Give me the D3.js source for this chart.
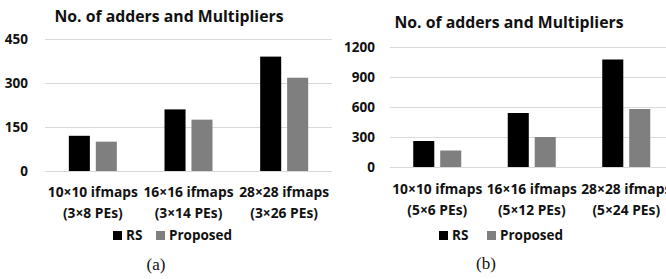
<!DOCTYPE html>
<html>
<head>
<meta charset="utf-8">
<script src="https://cdn.jsdelivr.net/npm/d3@7"></script>
<style>
  body { margin: 0; background: #fff; }
  svg text { font-family: "Open Sans", sans-serif; font-weight: bold; fill: #111; }
  svg text.caption { font-family: "Liberation Serif", serif; font-weight: normal; }
</style>
</head>
<body>
<svg id="chart"></svg>
<script>
// ----- data -----
const series_names = ["RS", "Proposed"];
const series_colors = ["#000000", "#7f7f7f"];

// (a)
const categories_a = [["10×10 ifmaps", "(3×8 PEs)"], ["16×16 ifmaps", "(3×14 PEs)"], ["28×28 ifmaps", "(3×26 PEs)"]];
const rs_a = [120, 210, 390];
const proposed_a = [100, 175, 318];
const ticks_a = [0, 150, 300, 450];

// (b)
const categories_b = [["10×10 ifmaps", "(5×6 PEs)"], ["16×16 ifmaps", "(5×12 PEs)"], ["28×28 ifmaps", "(5×24 PEs)"]];
const rs_b = [260, 540, 1075];
const proposed_b = [165, 300, 580];
const ticks_b = [0, 300, 600, 900, 1200];

const title_text = "No. of adders and Multipliers";

const width = 666, height = 279;
const svg = d3.select("#chart").attr("width", width).attr("height", height);

// draws one panel of grouped bars
function draw_panel(opt) {
    const g = svg.append("g");

    const x0 = d3.scaleBand()
        .domain(d3.range(opt.categories.length))
        .range([opt.left, opt.right]);
    const bw = x0.bandwidth();
    const x1 = d3.scaleBand()
        .domain(series_names)
        .range([bw / 2 - 24, bw / 2 + 24])
        .paddingInner(0.22);
    const y = d3.scaleLinear()
        .domain([0, opt.max])
        .range([opt.bottom, opt.top]);

    // gridlines + y labels
    const y_axis = g.append("g")
        .attr("transform", `translate(${opt.left},0)`)
        .call(d3.axisLeft(y).tickValues(opt.ticks).tickFormat(d3.format("d"))
            .tickSize(-(opt.grid_right - opt.left)).tickPadding(opt.pad));
    y_axis.select(".domain").remove();
    y_axis.selectAll("line").attr("stroke", "#d9d9d9").attr("stroke-width", 1);
    y_axis.selectAll("text").style("font-size", "13.5px").attr("fill", "#111");

    // bars
    const values = [opt.rs, opt.proposed];
    series_names.forEach((s, si) => {
        g.selectAll(null)
            .data(values[si])
            .enter()
            .append("rect")
            .attr("x", (d, i) => x0(i) + x1(s))
            .attr("width", x1.bandwidth())
            .attr("y", d => y(d))
            .attr("height", d => y(0) - y(d))
            .attr("fill", series_colors[si]);
    });

    // category labels (two lines)
    const lab = g.selectAll(null)
        .data(opt.categories)
        .enter()
        .append("text")
        .attr("text-anchor", "middle")
        .style("font-size", "13.8px");
    lab.append("tspan")
        .attr("x", (d, i) => x0(i) + bw / 2)
        .attr("y", opt.label_y)
        .text(d => d[0]);
    lab.append("tspan")
        .attr("x", (d, i) => x0(i) + bw / 2)
        .attr("y", opt.label_y + 21)
        .text(d => d[1]);

    // title
    g.append("text")
        .attr("x", opt.title_x)
        .attr("y", opt.title_y)
        .attr("text-anchor", "middle")
        .style("font-size", "15.8px")
        .text(title_text);

    // legend
    const leg = g.append("g").attr("transform", `translate(${opt.legend_x},${opt.legend_y})`);
    const offsets = [0, opt.legend_gap];
    series_names.forEach((s, si) => {
        leg.append("rect")
            .attr("x", offsets[si])
            .attr("y", -9)
            .attr("width", 9)
            .attr("height", 9)
            .attr("fill", series_colors[si]);
        leg.append("text")
            .attr("x", offsets[si] + 13)
            .attr("y", 0)
            .style("font-size", "13.5px")
            .text(s);
    });

    // caption
    g.append("text")
        .attr("class", "caption")
        .attr("x", opt.caption_x)
        .attr("y", opt.caption_y)
        .attr("text-anchor", "middle")
        .style("font-size", "17px")
        .text(opt.caption);
}

draw_panel({
    categories: categories_a, rs: rs_a, proposed: proposed_a, ticks: ticks_a, max: 450,
    left: 45, right: 332, grid_right: 332, top: 39, bottom: 171, pad: 17,
    label_y: 197, title_x: 169, title_y: 22,
    legend_x: 113, legend_y: 240, legend_gap: 43,
    caption: "(a)", caption_x: 156, caption_y: 270
});

draw_panel({
    categories: categories_b, rs: rs_b, proposed: proposed_b, ticks: ticks_b, max: 1200,
    left: 390, right: 673.5, grid_right: 666, top: 47, bottom: 167, pad: 15,
    label_y: 194, title_x: 509, title_y: 28,
    legend_x: 439, legend_y: 240, legend_gap: 48,
    caption: "(b)", caption_x: 486, caption_y: 269
});
</script>
</body>
</html>
